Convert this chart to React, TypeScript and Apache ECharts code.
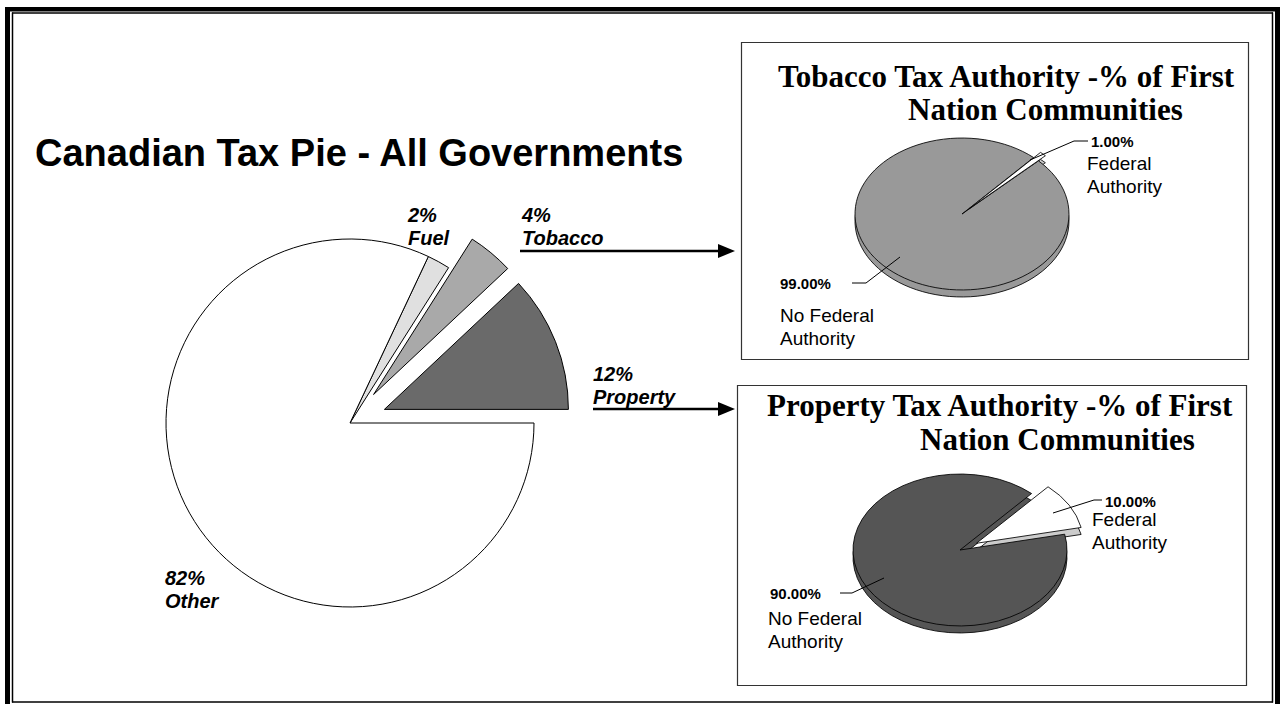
import React, { useEffect, useRef } from "react";
import * as echarts from "echarts";

// ---- data ----
const mainTitle = "Canadian Tax Pie - All Governments";
const mainCategories = ["Property", "Tobacco", "Fuel", "Other"];
const mainValues = [12, 4, 2, 82];

const tobaccoTitle = ["Tobacco Tax Authority -% of First", "Nation Communities"];
const tobaccoCategories = ["No Federal\nAuthority", "Federal\nAuthority"];
const tobaccoValues = [99, 1];

const propertyTitle = ["Property Tax Authority -% of First", "Nation Communities"];
const propertyCategories = ["No Federal\nAuthority", "Federal\nAuthority"];
const propertyValues = [90, 10];

// ---- styles ----
const mainColors = ["#6a6a6a", "#a9a9a9", "#e0e0e0", "#ffffff"];
const SANS = "'Liberation Sans', Arial, sans-serif";
const SERIF = "'Liberation Serif', 'Times New Roman', serif";

function tiltedPie(
  values: number[],
  colors: string[],
  sideColors: string[],
  center: number[],
  rx: number,
  ry: number,
  depth: number,
  startDeg: number,
  explode: number[]
) {
  const total = values.reduce((a, b) => a + b, 0);
  const k = ry / rx;
  return {
    type: "custom",
    coordinateSystem: "none",
    silent: true,
    data: values.map((v) => [v]),
    renderItem: (params: any, api: any) => {
      const i = params.dataIndex;
      let before = 0;
      for (let j = 0; j < i; j++) before += values[j];
      const v = api.value(0);
      const a0 = startDeg + (360 * before) / total;
      const a1 = a0 + (360 * v) / total;
      const mid = (((a0 + a1) / 2) * Math.PI) / 180;
      const d = explode[i];
      const ox = center[0] + d * Math.cos(mid);
      const oy = center[1] - d * Math.sin(mid) * k;
      const shape = {
        cx: 0,
        cy: 0,
        r: rx,
        r0: 0,
        startAngle: (-a1 * Math.PI) / 180,
        endAngle: (-a0 * Math.PI) / 180,
        clockwise: true,
      };
      return {
        type: "group",
        children: [
          {
            type: "sector",
            x: ox,
            y: oy + depth,
            scaleY: k,
            shape,
            style: { fill: sideColors[i], stroke: "#000", lineWidth: 1, strokeNoScale: true },
            z2: 1,
          },
          {
            type: "sector",
            x: ox,
            y: oy,
            scaleY: k,
            shape,
            style: { fill: colors[i], stroke: "#000", lineWidth: 1, strokeNoScale: true },
            z2: 10,
          },
        ],
      };
    },
  };
}

function txt(text: string, x: number, y: number, font: string, opts: any = {}) {
  return {
    type: "text",
    z: 20,
    silent: true,
    style: {
      text,
      x,
      y,
      font,
      fill: "#000",
      align: opts.align || "left",
      textAlign: opts.align || "left",
      verticalAlign: opts.va || "middle",
      textVerticalAlign: opts.va || "middle",
      lineHeight: opts.lh,
    },
  };
}

function line(points: number[][], w = 1) {
  return {
    type: "polyline",
    z: 20,
    silent: true,
    shape: { points },
    style: { stroke: "#000", lineWidth: w, fill: "none" },
  };
}

function arrow(x1: number, x2: number, y: number) {
  return [
    line([[x1, y], [x2 - 12, y]], 2.5),
    {
      type: "polygon",
      z: 20,
      silent: true,
      shape: { points: [[x2 - 17, y - 7], [x2, y], [x2 - 17, y + 7]] },
      style: { fill: "#000" },
    },
  ];
}

function buildOption() {
  const mainLabelPos = [
    [593, 362],
    [522, 203],
    [408, 203],
    [165, 566],
  ];
  const mainLabels = mainCategories.map((c, i) =>
    txt(`${mainValues[i]}%\n${c}`, mainLabelPos[i][0], mainLabelPos[i][1], `italic bold 20px ${SANS}`, {
      va: "top",
      lh: 23,
    })
  );

  const pct = (v: number) => `${v.toFixed(2)}%`;

  const graphics: any[] = [
    // frame
    { type: "rect", z: 0, silent: true, shape: { x: 0, y: 0, width: 1282, height: 704 }, style: { fill: "#fff" } },
    line([[7.5, 7], [7.5, 704]], 5),
    line([[5, 9.3], [1280, 9.3]], 4.5),
    line([[1277.5, 7], [1277.5, 704]], 5),
    line([[12.5, 12.5], [12.5, 702.5]], 1.5),
    line([[12, 13], [1273, 13]], 1.5),
    line([[1272.5, 12.5], [1272.5, 702.5]], 1.5),
    line([[12, 702], [1273, 702]], 1.5),
    // boxes
    {
      type: "rect",
      z: 2,
      silent: true,
      shape: { x: 741.5, y: 42.5, width: 507, height: 317 },
      style: { fill: "none", stroke: "#333", lineWidth: 1.2 },
    },
    {
      type: "rect",
      z: 2,
      silent: true,
      shape: { x: 737.5, y: 385.5, width: 509, height: 300 },
      style: { fill: "none", stroke: "#333", lineWidth: 1.2 },
    },
    // main title
    txt(mainTitle, 35, 153, `bold 38px ${SANS}`),
    ...mainLabels,
    ...arrow(520, 735, 251),
    ...arrow(593, 735, 409),
    // tobacco box
    txt(tobaccoTitle[0], 778, 76, `bold 31px ${SERIF}`),
    txt(tobaccoTitle[1], 908, 109, `bold 31px ${SERIF}`),
    line([[1030, 160], [1074, 141], [1088, 141]]),
    txt(pct(tobaccoValues[1]), 1091, 141, `bold 15px ${SANS}`),
    txt(tobaccoCategories[1], 1087, 151.5, `19px ${SANS}`, { va: "top", lh: 23 }),
    line([[852, 283], [866, 283], [900, 257]]),
    txt(pct(tobaccoValues[0]), 780, 283, `bold 15px ${SANS}`),
    txt(tobaccoCategories[0], 780, 303.5, `19px ${SANS}`, { va: "top", lh: 23 }),
    // property box
    txt(propertyTitle[0], 767, 405, `bold 31px ${SERIF}`),
    txt(propertyTitle[1], 920, 439, `bold 31px ${SERIF}`),
    line([[1053, 513], [1094, 500], [1102, 500]]),
    txt(pct(propertyValues[1]), 1105, 501, `bold 15px ${SANS}`),
    txt(propertyCategories[1], 1092, 508, `19px ${SANS}`, { va: "top", lh: 23 }),
    line([[840, 593], [852, 593], [884, 578]]),
    txt(pct(propertyValues[0]), 770, 593, `bold 15px ${SANS}`),
    txt(propertyCategories[0], 768, 606.5, `19px ${SANS}`, { va: "top", lh: 23 }),
  ];

  return {
    animation: false,
    backgroundColor: "#fff",
    graphic: graphics,
    series: [
      {
        type: "pie",
        z: 5,
        center: [350, 423],
        radius: 184,
        startAngle: 0,
        clockwise: false,
        selectedMode: "multiple",
        selectedOffset: 37,
        silent: true,
        avoidLabelOverlap: false,
        label: { show: false },
        labelLine: { show: false },
        emphasis: { disabled: true },
        itemStyle: { borderColor: "#000", borderWidth: 1 },
        data: mainCategories.map((c, i) => ({
          name: c,
          value: mainValues[i],
          selected: i < 2,
          itemStyle: { color: mainColors[i] },
        })),
      },
      tiltedPie(tobaccoValues, ["#999999", "#ffffff"], ["#999999", "#cccccc"], [962, 214], 107, 76, 7, 48, [0, 10]),
      tiltedPie(propertyValues, ["#555555", "#ffffff"], ["#555555", "#cccccc"], [960, 550], 107, 76, 7, 48, [0, 19]),
    ],
  };
}

export default function App() {
  const ref = useRef<HTMLDivElement>(null);
  useEffect(() => {
    document.body.style.margin = "0";
    const chart = echarts.init(ref.current as HTMLDivElement, null, { renderer: "svg" });
    chart.setOption(buildOption() as any);
    return () => chart.dispose();
  }, []);
  return <div ref={ref} style={{ width: 1282, height: 704 }} />;
}
